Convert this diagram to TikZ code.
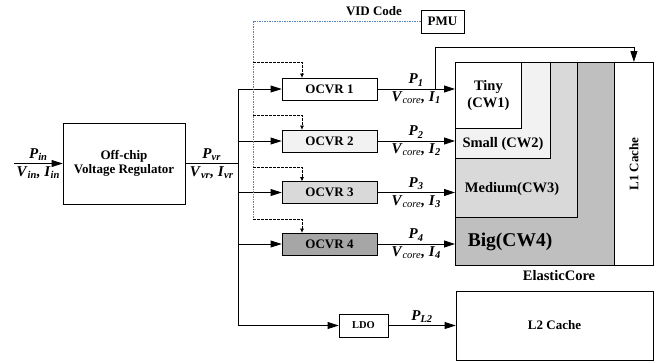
\documentclass[tikz,border=0pt]{standalone}
\usepackage{fontspec}
\setmainfont{Liberation Serif}
\usetikzlibrary{arrows.meta}
\definecolor{vidblue}{RGB}{79,129,189}
\newcommand{\vsub}[2]{\textbf{\textit{#1}}\textsubscript{\textbf{\textit{#2}}}}
\tikzstyle{block} = [rectangle, draw=black, line width=0.8pt, inner sep=0pt, align=center, font=\fontsize{13}{14.5}\selectfont\bfseries]
\tikzstyle{ocvr} = [block, minimum width=95pt, minimum height=22pt]
\tikzstyle{region} = [rectangle, draw=black, line width=0.8pt, anchor=north west, inner sep=0pt]
\tikzstyle{corelbl} = [font=\fontsize{14.5}{17}\selectfont\bfseries, align=center]
\tikzstyle{wire} = [line width=0.8pt, -{Triangle[length=11pt,width=7pt]}]
\tikzstyle{sig} = [font=\fontsize{15}{17}\selectfont, inner sep=2.5pt]
\tikzstyle{ctl} = [line width=0.7pt, dash pattern=on 2.5pt off 1.5pt, -{Triangle[length=4pt,width=3.5pt]}]

\begin{document}
\begin{tikzpicture}[x=1pt,y=-1pt]
    \useasboundingbox (0,0) rectangle (672,362);

    % off-chip regulator and bus
    \coordinate (in) at (14,163.5);
    \node(vr)[block, minimum width=122pt, minimum height=81pt] at (124,163.5) {Off-chip\\Voltage Regulator};
    \draw[wire] (in) -- node[sig, above]{\vsub{P}{in}} node[sig, below]{\vsub{V}{in}\textbf{\textit{,}} \vsub{I}{in}} (vr.west);
    \coordinate (bustop) at (238,89);
    \coordinate (busbot) at (238,325.5);
    \draw[line width=0.8pt] (vr.east) -- node[sig, above]{\vsub{P}{vr}} node[sig, below]{\vsub{V}{vr}\textbf{\textit{,}} \vsub{I}{vr}} (vr.east -| bustop);
    \draw[line width=0.8pt] (bustop) -- (busbot);

    % on-chip regulators
    \node(ocvr1)[ocvr, fill=white] at (329.5,89) {OCVR 1};
    \node(ocvr2)[ocvr, fill=black!5] at (329.5,141) {OCVR 2};
    \node(ocvr3)[ocvr, fill=black!15] at (329.5,192.5) {OCVR 3};
    \node(ocvr4)[ocvr, fill=black!35] at (329.5,244) {OCVR 4};
    \node(ldo)[block, minimum width=49pt, minimum height=23pt, font=\fontsize{10.5}{12}\selectfont\bfseries] at (363.5,325.5) {LDO};
    \node(pmu)[block, minimum width=43pt, minimum height=23pt] at (442.5,21.5) {PMU};
    \node(vid)[block, draw=none] at (374,11) {VID Code};

    % ElasticCore
    \node(big)[region, fill=black!25, minimum width=159pt, minimum height=203pt] at (455,62) {};
    \node(medium)[region, fill=black!15, minimum width=122pt, minimum height=155pt] at (455,62) {};
    \node(small)[region, fill=black!5, minimum width=95pt, minimum height=96pt] at (455,62) {};
    \node(tiny)[region, fill=white, minimum width=66pt, minimum height=66pt, corelbl] at (455,62) {Tiny\\(CW1)};
    \node(l1)[region, fill=white, minimum width=39pt, minimum height=203pt] at (614,62) {};
    \node(lblsmall)[corelbl] at (503,144) {Small (CW2)};
    \node(lblmedium)[corelbl] at (512,189) {Medium(CW3)};
    \node(lblbig)[corelbl, font=\fontsize{19.5}{22}\selectfont\bfseries] at (510,242) {Big(CW4)};
    \node(lbll1)[block, draw=none, rotate=90] at (l1.center) {L1 Cache};
    \node(elastic)[block, draw=none, font=\fontsize{14.5}{16}\selectfont\bfseries] at (559,276) {ElasticCore};
    \node(l2)[block, minimum width=197pt, minimum height=69pt] at (554.5,325.5) {L2 Cache};

    % power paths
    \foreach \i in {1,...,4}
    {
        \draw[wire] (bustop |- ocvr\i) -- (ocvr\i.west);
        \draw[wire] (ocvr\i.east) -- node[sig, above]{\vsub{P}{\i}} node[sig, below]{\textbf{\textit{V}}\textsubscript{\textit{core}}\textbf{\textit{,}} \vsub{I}{\i}} (ocvr\i -| big.west);
    }
    \coordinate (tap) at (435,89);
    \draw[wire] (tap) -- (435,47) -| (l1.north);
    \draw[wire] (busbot) -- (ldo.west);
    \draw[wire] (ldo.east) -- node[sig, above]{\vsub{P}{L2}} (l2.west);

    % VID control
    \coordinate (vidbot) at (253,219);
    \draw[vidblue, line width=0.9pt, dash pattern=on 1.5pt off 1pt] (pmu.west) -| (vidbot);
    \foreach \i/\y in {1/62,2/115,3/167,4/219}
        \draw[ctl] (253,\y) -| ([xshift=-27.5pt]ocvr\i.north);

\end{tikzpicture}
\end{document}
